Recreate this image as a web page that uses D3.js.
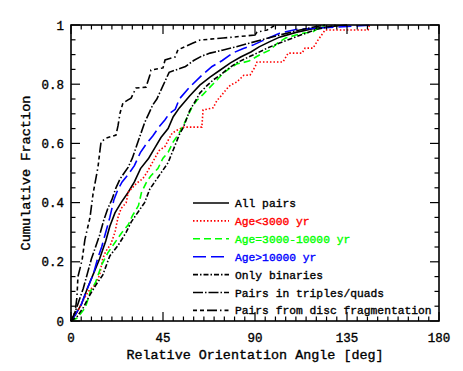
<!DOCTYPE html>
<html>
<head>
<meta charset="utf-8">
<script src="https://cdn.jsdelivr.net/npm/d3@7"></script>
<style>
  body { margin: 0; background: #fff; }
  text { font-family: "Liberation Mono", monospace; fill: #000; stroke-width: 0.35; }
</style>
</head>
<body>
<svg id="chart" width="463" height="371"></svg>
<script>
// cumulative distributions, [angle in deg, fraction]
const allPairs = [[0,0],[2,.02],[5,.055],[8,.11],[11,.16],[14,.21],[17,.27],[19,.32],[21.5,.365],[24.5,.40],[28,.435],[31,.47],[34,.515],[38,.55],[41,.585],[44,.62],[47.5,.65],[50,.69],[53,.72],[58,.76],[63,.797],[68,.824],[73,.848],[78,.872],[83,.892],[88,.909],[92,.926],[97,.943],[102,.959],[110,.975],[120,.99],[135,1]];
const ageYoung = [[0,0],[1,.02],[3,.03],[6,.07],[8.5,.10],[11.5,.12],[14,.155],[15.5,.21],[17,.235],[19.5,.26],[21.5,.30],[23,.35],[24.5,.38],[27,.40],[28,.435],[30,.45],[32,.465],[35,.48],[37,.50],[39,.525],[41,.55],[43,.575],[46,.59],[47.5,.61],[49.5,.635],[52,.645],[55,.655],[64,.655],[64.6,.713],[69.5,.72],[71.4,.745],[73,.757],[76.3,.785],[78,.797],[81,.807],[83,.82],[84.5,.83],[87.6,.831],[90,.858],[91,.875],[103.7,.875],[106.2,.905],[113,.905],[114.5,.922],[118.4,.922],[120.8,.949],[124.3,.983],[145.3,.983],[146,1]];
const ageMid = [[0,0],[3,.01],[7,.045],[9.5,.10],[12,.13],[15,.19],[18,.23],[21.5,.265],[25,.30],[28,.325],[30,.355],[33,.39],[34.5,.435],[37,.47],[39,.49],[42.5,.515],[45,.55],[47.5,.57],[50,.605],[52.5,.63],[54.5,.655],[57,.69],[59,.72],[61.5,.745],[64.5,.765],[68,.79],[71.5,.815],[74.5,.838],[78,.855],[81,.868],[87,.878],[92.5,.90],[97.5,.916],[101,.939],[105,.956],[110,.966],[114,.973],[118,.976],[122,.993],[124.3,1]];
const ageOld = [[0,0],[2,.02],[5,.055],[8,.11],[11,.16],[13,.21],[15,.25],[17,.30],[19,.35],[21,.41],[23,.445],[25,.47],[28,.495],[31,.525],[34,.57],[37,.60],[40,.625],[43,.655],[46,.68],[48,.70],[51,.715],[53,.75],[58,.79],[64,.83],[69,.86],[74,.88],[79,.905],[84,.92],[89,.932],[94,.948],[102,.972],[110,.985],[130,.993],[148,1]];
const onlyBinaries = [[0,0],[3,.015],[6,.045],[9,.085],[12,.12],[15.5,.155],[19,.22],[23,.255],[27,.30],[29.5,.335],[33,.37],[36,.40],[38.5,.445],[41,.47],[44,.50],[47.5,.535],[51,.595],[53,.63],[55,.655],[58,.71],[61,.745],[63,.77],[66.5,.795],[69.5,.814],[73,.831],[76,.848],[81,.872],[86,.889],[91,.905],[96,.922],[102,.939],[110,.96],[120,.985],[130,1]];
const triplesQuads = [[0,0],[2,.03],[4,.07],[6,.11],[8,.16],[10,.21],[12,.25],[14,.29],[16,.34],[18,.38],[20,.41],[22,.45],[24,.48],[26,.50],[28,.52],[30,.55],[32,.59],[34,.63],[36,.67],[38,.70],[40,.73],[42,.75],[44,.78],[46,.81],[48,.84],[52,.85],[56,.86],[60,.88],[64,.895],[68,.905],[74,.915],[80,.925],[88,.94],[96,.955],[102,.966],[110,.98],[120,.995],[125,1]];
const discFrag = [[0,0],[2,.03],[2.9,.08],[3.4,.15],[5.4,.205],[6.8,.275],[9.3,.35],[10.8,.43],[13.2,.52],[14.2,.578],[14.7,.605],[17.1,.618],[22,.628],[23,.66],[24,.703],[25.4,.736],[27.9,.747],[29.4,.753],[31.8,.787],[36.7,.79],[38.6,.831],[39.1,.848],[45,.855],[46,.882],[50.9,.892],[52.3,.916],[59.7,.939],[63.1,.949],[74.4,.956],[90,.966],[91,.976],[95.9,.983],[100,1]];

const xTicks = [0, 45, 90, 135, 180];
const yTicks = [0, 0.2, 0.4, 0.6, 0.8, 1];
const labels = ["All pairs", "Age<3000 yr", "Age=3000-10000 yr", "Age>10000 yr",
  "Only binaries", "Pairs in triples/quads", "Pairs from disc fragmentation"];

const series = [
  {name: labels[0], values: allPairs, color: "#000", dash: null},
  {name: labels[1], values: ageYoung, color: "#ff0000", dash: "1.5,2"},
  {name: labels[2], values: ageMid, color: "#00ff00", dash: "7,4"},
  {name: labels[3], values: ageOld, color: "#0000ff", dash: "13,5"},
  {name: labels[4], values: onlyBinaries, color: "#000", dash: "5,2,1.5,2"},
  {name: labels[5], values: triplesQuads, color: "#000", dash: "10,2,1.5,2"},
  {name: labels[6], values: discFrag, color: "#000", dash: "4,3,4,3,10,3,1.5,3"}
];

const svg = d3.select("#chart"),
    margin = {top: 25, right: 24, bottom: 50, left: 71},
    width = +svg.attr("width"),
    height = +svg.attr("height");

const x = d3.scaleLinear().domain([0, 180]).range([margin.left, width - margin.right]);
const y = d3.scaleLinear().domain([0, 1]).range([height - margin.bottom, margin.top]);

const line = d3.line()
    .x(d => x(d[0]))
    .y(d => y(d[1]));

// curves
svg.append("g")
    .selectAll("path")
    .data(series)
    .join("path")
    .attr("fill", "none")
    .attr("stroke", d => d.color)
    .attr("stroke-width", 1.6)
    .attr("stroke-dasharray", d => d.dash)
    .attr("d", d => line(d.values));

// axes, ticks inside on all four sides
const x0 = x.range()[0], x1 = x.range()[1], y0 = y.range()[0], y1 = y.range()[1];
const minorX = d3.range(0, 181, 5), minorY = d3.range(0, 1.0001, 0.05);

const axes = svg.append("g").attr("stroke", "#000").attr("stroke-width", 1.2);
minorX.forEach(v => {
  const len = v % 45 === 0 ? 9 : 4.5;
  axes.append("line").attr("x1", x(v)).attr("x2", x(v)).attr("y1", y0).attr("y2", y0 - len);
  axes.append("line").attr("x1", x(v)).attr("x2", x(v)).attr("y1", y1).attr("y2", y1 + len);
});
minorY.forEach(v => {
  const major = Math.abs(v * 5 - Math.round(v * 5)) < 1e-6;
  const len = major ? 9 : 4.5;
  axes.append("line").attr("x1", x0).attr("x2", x0 + len).attr("y1", y(v)).attr("y2", y(v));
  axes.append("line").attr("x1", x1).attr("x2", x1 - len).attr("y1", y(v)).attr("y2", y(v));
});
svg.append("rect")
    .attr("x", x0).attr("y", y1)
    .attr("width", x1 - x0).attr("height", y0 - y1)
    .attr("fill", "none").attr("stroke", "#000").attr("stroke-width", 1.6);

// tick labels
svg.append("g").selectAll("text").data(xTicks).join("text")
    .attr("x", d => x(d)).attr("y", y0 + 21)
    .attr("text-anchor", "middle").attr("font-size", 12.5)
    .style("stroke", "#000")
    .text(d => d);
svg.append("g").selectAll("text").data(yTicks).join("text")
    .attr("x", x0 - 7).attr("y", d => y(d) + 4.5)
    .attr("text-anchor", "end").attr("font-size", 12.5)
    .style("stroke", "#000")
    .text(d => d3.format("~g")(d));

// axis titles
svg.append("text")
    .attr("x", (x0 + x1) / 2).attr("y", y0 + 38)
    .attr("text-anchor", "middle").attr("font-size", 13.4)
    .style("stroke", "#000")
    .text("Relative Orientation Angle [deg]");
svg.append("text")
    .attr("transform", "translate(30," + ((y0 + y1) / 2) + ") rotate(-90)")
    .attr("text-anchor", "middle").attr("font-size", 13.6)
    .style("stroke", "#000")
    .text("Cumulative Fraction");

// legend
const legend = svg.append("g").attr("transform", "translate(193,203)");
const row = legend.selectAll("g").data(series).join("g")
    .attr("transform", (d, i) => "translate(0," + i * 17.9 + ")");
row.append("line")
    .attr("x1", 0).attr("x2", 36)
    .attr("stroke", d => d.color).attr("stroke-width", 1.6)
    .attr("stroke-dasharray", d => d.dash);
row.append("text")
    .attr("x", 42).attr("y", 4)
    .attr("font-size", 11.3)
    .style("fill", d => d.color)
    .style("stroke", d => d.color)
    .text(d => d.name);
</script>
</body>
</html>
